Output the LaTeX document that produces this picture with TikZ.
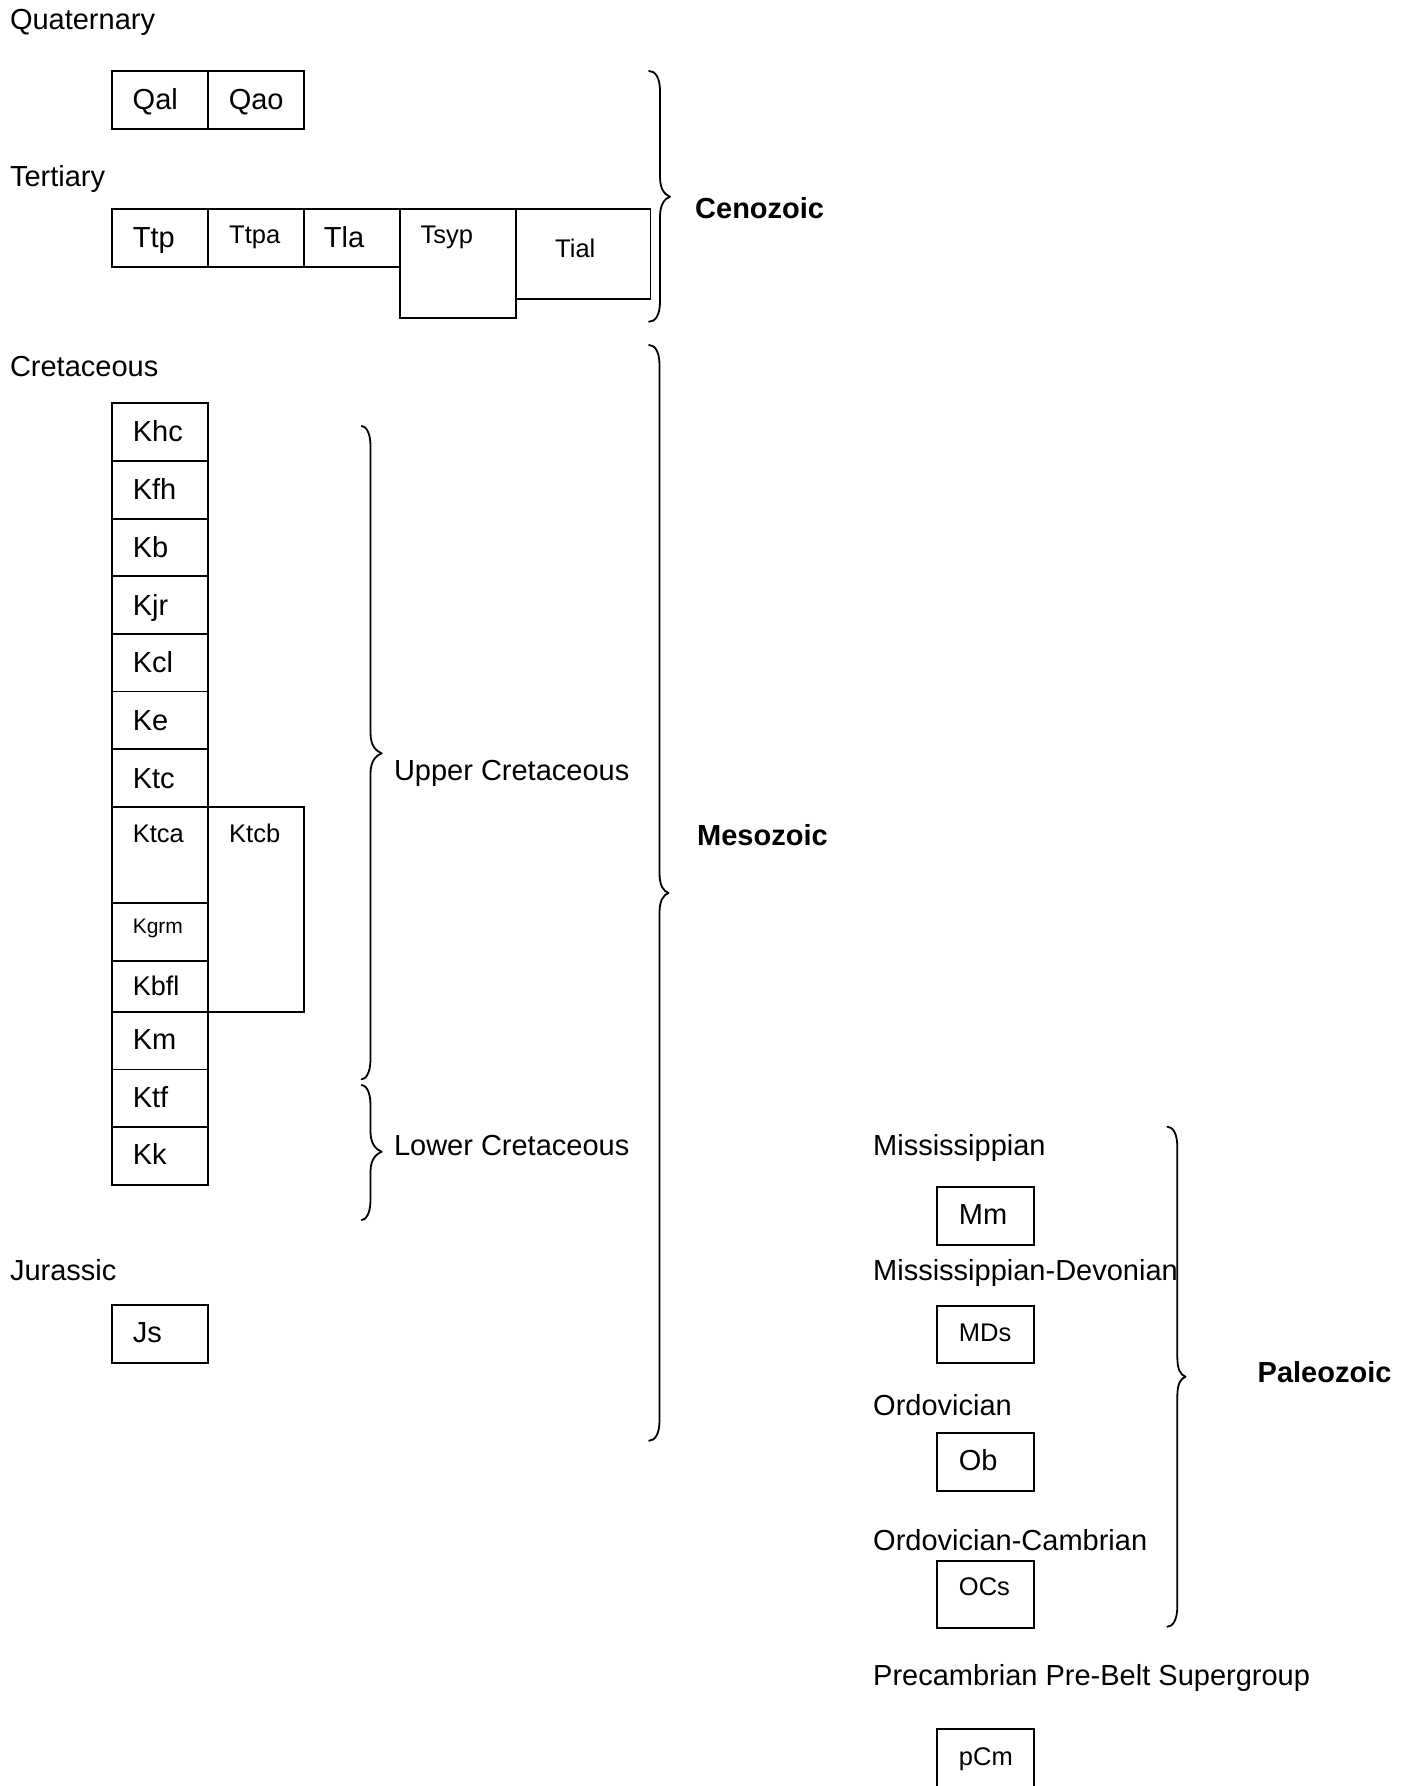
\documentclass[tikz,border=0pt]{standalone}
\usepackage{fontspec}
\setmainfont{Liberation Sans}
\begin{document}
\begin{tikzpicture}[x=1pt,y=-1pt,
  box/.style={draw=black,line width=1.8pt,inner sep=0pt,outer sep=0pt},
  brc/.style={draw=black,line width=1.8pt,line cap=round,line join=round},
  big/.style={anchor=base west,inner sep=0pt,font=\fontsize{29}{34}\selectfont},
  bgb/.style={anchor=base west,inner sep=0pt,font=\fontsize{29}{34}\selectfont\bfseries},
  mid/.style={anchor=base west,inner sep=0pt,font=\fontsize{27}{32}\selectfont},
  sml/.style={anchor=base west,inner sep=0pt,font=\fontsize{25.5}{30}\selectfont},
  tny/.style={anchor=base west,inner sep=0pt,font=\fontsize{21}{25}\selectfont}]
\useasboundingbox (0,0) rectangle (1409,1786);
\fill[white] (0,0) rectangle (1409,1786);
\newcommand\bx[5]{\node[box,anchor=north west,minimum width={#4pt-#2pt},minimum height={#5pt-#3pt}] (#1) at (#2,#3) {};}
\newcommand\brc[6]{\draw[brc] (#1,#4) .. controls (#2-5,#4) and (#2,#4+6) .. (#2,#4+20) -- (#2,#5-20) .. controls (#2,#5-7) and (#3-5,#5-2) .. (#3,#5) .. controls (#3-5,#5+2) and (#2,#5+7) .. (#2,#5+20) -- (#2,#6-20) .. controls (#2,#6-6) and (#2-5,#6) .. (#1,#6);}
% period labels
\node[big] (quat) at (9.8,29) {Quaternary};
\node[big] (tert) at (9.8,186) {Tertiary};
\node[big] (cret) at (9.8,376) {Cretaceous};
\node[big] (jura) at (9.8,1280.5) {Jurassic};
\node[big] (upcr) at (393.8,780) {Upper Cretaceous};
\node[big] (locr) at (393.8,1155) {Lower Cretaceous};
\node[big] (miss) at (873,1155) {Mississippian};
\node[big] (misd) at (873,1280) {Mississippian-Devonian};
\node[big] (ordo) at (873,1415) {Ordovician};
\node[big] (ordc) at (873,1550) {Ordovician-Cambrian};
\node[big] (prec) at (873,1685) {Precambrian Pre-Belt Supergroup};
\node[bgb] (ceno) at (695,218.7) {Cenozoic};
\node[bgb] (meso) at (697,845) {Mesozoic};
\node[bgb] (pale) at (1257.5,1382) {Paleozoic};
% Quaternary boxes
\bx{bQal}{111.6}{71}{208.3}{129.3}
\bx{bQao}{208.3}{71}{303.8}{129.3}
\node[big] (tQal) at (132.5,109.5) {Qal};
\node[big] (tQao) at (228.6,109.5) {Qao};
% Tertiary boxes
\bx{bTtp}{111.6}{209.3}{208.3}{266.7}
\bx{bTtpa}{208.3}{209.3}{304}{266.7}
\bx{bTla}{304}{209.3}{400}{266.7}
\bx{bTsyp}{400}{209.3}{516}{318.3}
\bx{bTial}{516}{209.3}{650.4}{299}
\node[big] (tTtp) at (132.6,247) {Ttp};
\node[sml] (tTtpa) at (229,243.7) {Ttpa};
\node[big] (tTla) at (323.7,247) {Tla};
\node[sml] (tTsyp) at (420.5,243.7) {Tsyp};
\node[sml] (tTial) at (555,257.5) {Tial};
% Cretaceous boxes
\bx{bKhc}{111.6}{403.3}{208.3}{461}
\bx{bKfh}{111.6}{461}{208.3}{518.6}
\bx{bKb}{111.6}{518.6}{208.3}{576.2}
\bx{bKjr}{111.6}{576.2}{208.3}{633.9}
\bx{bKcl}{111.6}{633.9}{208.3}{691.5}
\bx{bKe}{111.6}{691.5}{208.3}{749.1}
\bx{bKtc}{111.6}{749.1}{208.3}{806.7}
\bx{bKtca}{111.6}{806.7}{208.3}{902.7}
\bx{bKtcb}{208.3}{806.7}{304}{1012}
\bx{bKgrm}{111.6}{902.7}{208.3}{960.7}
\bx{bKbfl}{111.6}{960.7}{208.3}{1012}
\bx{bKm}{111.6}{1012}{208.3}{1069.4}
\bx{bKtf}{111.6}{1069.4}{208.3}{1127.3}
\bx{bKk}{111.6}{1127.3}{208.3}{1185}
\node[big] (tKhc) at (132.6,441.7) {Khc};
\node[big] (tKfh) at (132.6,499.6) {Kfh};
\node[big] (tKb) at (132.6,557.4) {Kb};
\node[big] (tKjr) at (132.6,615) {Kjr};
\node[big] (tKcl) at (132.6,672.7) {Kcl};
\node[big] (tKe) at (132.6,730.3) {Ke};
\node[big] (tKtc) at (132.6,788) {Ktc};
\node[sml] (tKtca) at (132.6,842.7) {Ktca};
\node[sml] (tKtcb) at (229,842.7) {Ktcb};
\node[tny] (tKgrm) at (132.6,933.3) {Kgrm};
\node[mid] (tKbfl) at (132.6,995.5) {Kbfl};
\node[big] (tKm) at (132.6,1049.3) {Km};
\node[big] (tKtf) at (132.6,1107.3) {Ktf};
\node[big] (tKk) at (132.6,1164.3) {Kk};
% Jurassic
\bx{bJs}{111.6}{1305.3}{208.3}{1363.3}
\node[big] (tJs) at (132.6,1342.8) {Js};
% Paleozoic column
\bx{bMm}{937.3}{1187.3}{1034.3}{1245}
\bx{bMDs}{937.3}{1305.7}{1034.3}{1363.3}
\bx{bOb}{937.3}{1432.7}{1034.3}{1490.7}
\bx{bOCs}{937.3}{1560.7}{1034.3}{1628.3}
\bx{bpCm}{937.3}{1729.3}{1034.3}{1800}
\node[big] (tMm) at (958.7,1224) {Mm};
\node[sml] (tMDs) at (958.7,1341) {MDs};
\node[big] (tOb) at (958.7,1470) {Ob};
\node[sml] (tOCs) at (958.7,1595.7) {OCs};
\node[sml] (tpCm) at (958.7,1765) {pCm};
% braces
\brc{649}{660}{670}{71}{196.7}{321.7}
\brc{649}{659.5}{668.5}{345}{893}{1440.7}
\brc{361.6}{370.5}{381.7}{426}{753.3}{1079.3}
\brc{361.6}{370.5}{381.7}{1085}{1151.7}{1220}
\brc{1167.3}{1177.3}{1185.5}{1126.7}{1376.7}{1626.7}
\end{tikzpicture}
\end{document}
